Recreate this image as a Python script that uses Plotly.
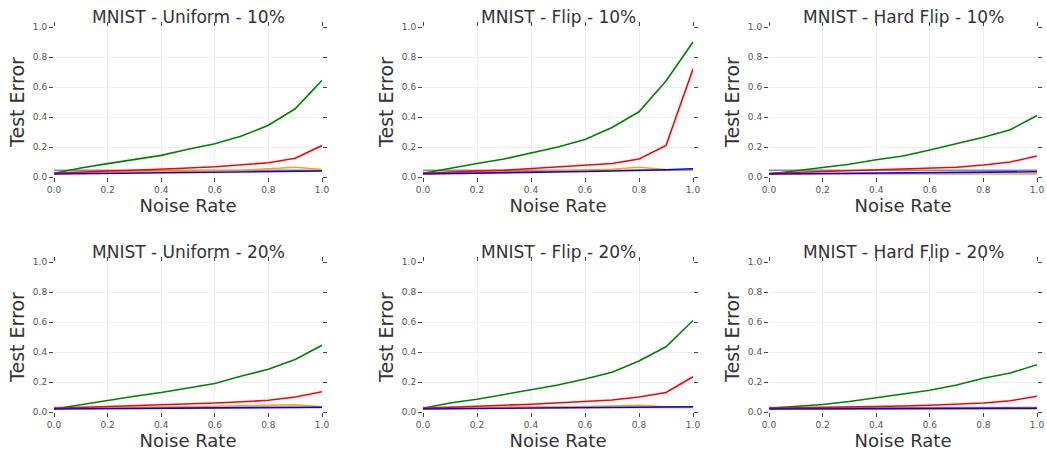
import plotly.graph_objects as go

noise = [0.0, 0.1, 0.2, 0.3, 0.4, 0.5, 0.6, 0.7, 0.8, 0.9, 1.0]
titles = ["MNIST - Uniform - 10%", "MNIST - Flip - 10%", "MNIST - Hard Flip - 10%",
          "MNIST - Uniform - 20%", "MNIST - Flip - 20%", "MNIST - Hard Flip - 20%"]

green = [
    [0.025, 0.06, 0.089, 0.117, 0.144, 0.185, 0.222, 0.273, 0.345, 0.455, 0.644],
    [0.025, 0.06, 0.09, 0.12, 0.16, 0.2, 0.25, 0.33, 0.435, 0.64, 0.9],
    [0.02, 0.04, 0.06, 0.085, 0.115, 0.14, 0.18, 0.22, 0.265, 0.315, 0.41],
    [0.02, 0.05, 0.08, 0.105, 0.13, 0.16, 0.19, 0.24, 0.285, 0.35, 0.445],
    [0.025, 0.06, 0.085, 0.115, 0.145, 0.18, 0.22, 0.265, 0.34, 0.435, 0.61],
    [0.025, 0.035, 0.05, 0.07, 0.095, 0.115, 0.145, 0.18, 0.225, 0.26, 0.315],
]
red = [
    [0.025, 0.035, 0.04, 0.045, 0.05, 0.06, 0.068, 0.08, 0.095, 0.125, 0.21],
    [0.025, 0.035, 0.04, 0.045, 0.055, 0.065, 0.075, 0.09, 0.12, 0.21, 0.72],
    [0.025, 0.03, 0.035, 0.04, 0.045, 0.05, 0.055, 0.065, 0.08, 0.1, 0.14],
    [0.025, 0.03, 0.037, 0.043, 0.05, 0.055, 0.06, 0.068, 0.078, 0.1, 0.135],
    [0.025, 0.03, 0.037, 0.045, 0.052, 0.06, 0.068, 0.08, 0.1, 0.13, 0.235],
    [0.025, 0.027, 0.03, 0.033, 0.036, 0.04, 0.045, 0.05, 0.06, 0.075, 0.105],
]
orange = [
    [0.03, 0.03, 0.032, 0.034, 0.036, 0.038, 0.04, 0.045, 0.055, 0.065, 0.05],
    [0.03, 0.03, 0.032, 0.034, 0.036, 0.04, 0.045, 0.052, 0.065, 0.05, 0.045],
    [0.02, 0.02, 0.02, 0.02, 0.02, 0.02, 0.02, 0.02, 0.02, 0.02, 0.02],
    [0.025, 0.026, 0.028, 0.03, 0.032, 0.035, 0.038, 0.041, 0.045, 0.048, 0.035],
    [0.025, 0.026, 0.028, 0.03, 0.032, 0.035, 0.037, 0.04, 0.045, 0.035, 0.035],
    [0.02, 0.02, 0.02, 0.02, 0.02, 0.02, 0.02, 0.02, 0.02, 0.02, 0.02],
]
gray = [
    [0.045] * 11,
    [0.045] * 11,
    [0.045] * 11,
    [0.03] * 11,
    [0.03] * 11,
    [0.03] * 11,
]
blue = [
    [0.02, 0.022, 0.024, 0.026, 0.028, 0.03, 0.032, 0.034, 0.036, 0.038, 0.04],
    [0.02, 0.022, 0.025, 0.028, 0.031, 0.034, 0.037, 0.04, 0.043, 0.048, 0.055],
    [0.02, 0.021, 0.022, 0.023, 0.024, 0.025, 0.027, 0.029, 0.031, 0.033, 0.035],
    [0.02, 0.021, 0.022, 0.023, 0.024, 0.025, 0.026, 0.028, 0.03, 0.031, 0.032],
    [0.02, 0.021, 0.022, 0.023, 0.024, 0.026, 0.028, 0.03, 0.032, 0.034, 0.035],
    [0.02, 0.02, 0.021, 0.021, 0.022, 0.022, 0.023, 0.023, 0.024, 0.024, 0.025],
]

W, H = 1047, 453
xdoms = [(54, 322), (423, 693), (769, 1037)]
ydoms = [(27, 177), (262, 412)]

fig = go.Figure()
series = [(gray, "#8c8c8c"), (orange, "#ffa500"), (green, "#008000"), (red, "#ff0000"), (blue, "#0000ff")]

for i in range(6):
    r, c = divmod(i, 3)
    ax = "" if i == 0 else str(i + 1)
    for data, col in series:
        fig.add_trace(go.Scatter(x=noise, y=data[i], mode="lines", line=dict(color=col, width=1.6),
                                 xaxis="x" + ax, yaxis="y" + ax, showlegend=False, hoverinfo="skip"))
    x0, x1 = xdoms[c]
    y0, y1 = ydoms[r]
    common = dict(showgrid=True, gridcolor="#efefef", gridwidth=1, zeroline=False, showline=False,
                  ticks="outside", ticklen=4, tickcolor="#444", tickwidth=1, mirror="ticks",
                  tickfont=dict(size=9, color="#555", family="DejaVu Sans"), automargin=False,
                  tickformat=".1f", dtick=0.2, range=[0, 1])
    fig.layout["xaxis" + ax] = dict(common, domain=[x0 / W, x1 / W], anchor="y" + ax,
                                    title=dict(text="Noise Rate", standoff=2,
                                               font=dict(size=18, color="#333", family="DejaVu Sans")))
    fig.layout["yaxis" + ax] = dict(common, domain=[1 - y1 / H, 1 - y0 / H], anchor="x" + ax,
                                    title=dict(text="Test Error", standoff=3,
                                               font=dict(size=19, color="#333", family="DejaVu Sans")))
    fig.add_annotation(text=titles[i], x=(x0 + x1) / 2 / W, y=1 - (y0 - 10) / H, xref="paper", yref="paper",
                       showarrow=False, xanchor="center", yanchor="middle",
                       font=dict(size=17, color="#333", family="DejaVu Sans"))

fig.update_layout(width=W, height=H, margin=dict(l=0, r=0, t=0, b=0),
                  plot_bgcolor="white", paper_bgcolor="white", showlegend=False)
fig.write_html("out.html")
